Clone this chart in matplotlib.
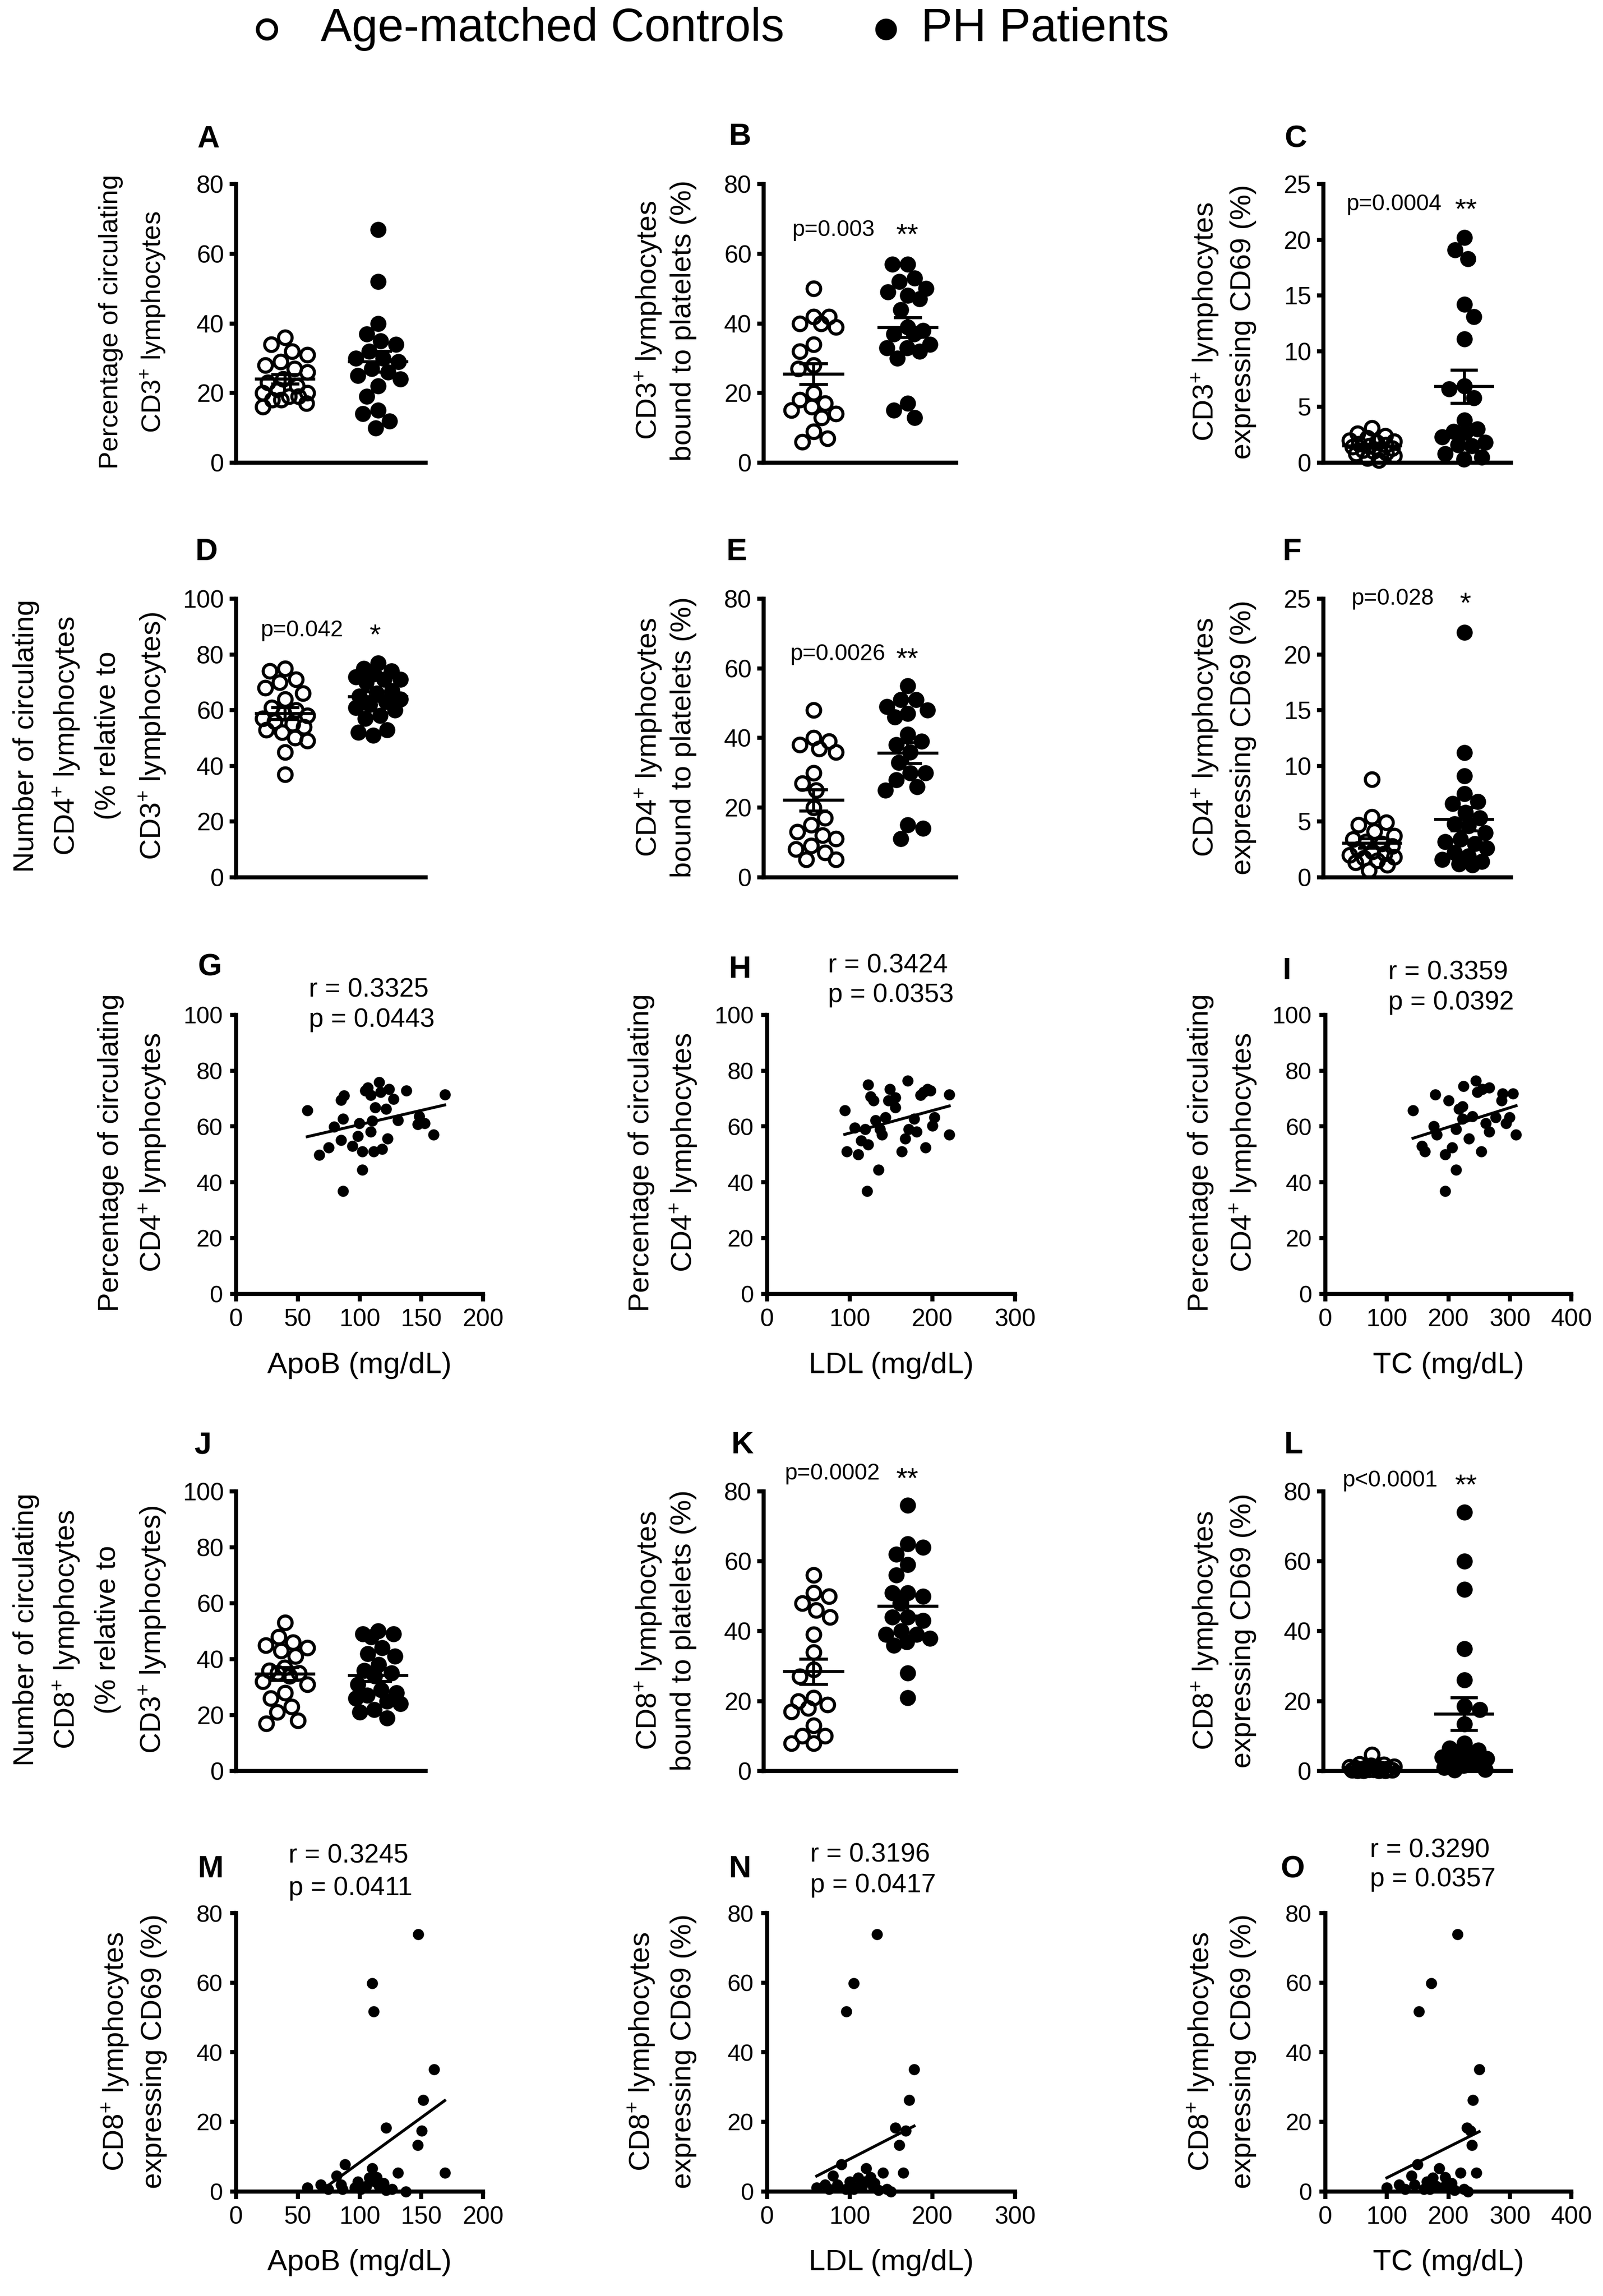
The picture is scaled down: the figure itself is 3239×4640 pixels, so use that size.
import numpy as np
import matplotlib
matplotlib.use("Agg")
import matplotlib.pyplot as plt
from matplotlib.lines import Line2D

plt.rcParams["font.family"] = ["Liberation Sans", "DejaVu Sans"]
plt.rcParams["mathtext.fontset"] = "custom"
plt.rcParams["mathtext.rm"] = "Liberation Sans"
plt.rcParams["mathtext.it"] = "Liberation Sans:italic"
plt.rcParams["mathtext.bf"] = "Liberation Sans:bold"

# ---------------- data ----------------
group_labels = ["Age-matched Controls", "PH Patients"]

a_ctrl = [36, 34, 32, 31, 29, 28, 27, 26, 24, 23, 22, 21, 20, 20, 19, 19, 18, 18, 17, 16]
a_ph = [67, 52, 40, 37, 35, 34, 32, 30, 30, 29, 27, 26, 25, 24, 22, 19, 15, 14, 12, 10]
b_ctrl = [50, 42, 42, 40, 40, 39, 34, 32, 28, 27, 20, 18, 17, 16, 15, 14, 13, 9, 7, 6]
b_ph = [57, 57, 53, 52, 50, 49, 48, 47, 44, 39, 38, 37, 37, 34, 33, 33, 32, 30, 17, 15, 13]
c_ctrl = [3.1, 2.6, 2.4, 2.2, 2.0, 1.9, 1.8, 1.7, 1.6, 1.5, 1.4, 1.3, 1.2, 1.1, 1.0, 0.9, 0.8, 0.6, 0.4, 0.2]
c_ph = [20.2, 19.1, 18.3, 14.2, 13.1, 11.1, 6.9, 6.6, 5.8, 3.8, 3.0, 2.8, 2.7, 2.3, 1.8, 1.6, 1.5, 0.8, 0.5, 0.3]
d_ctrl = [75, 74, 71, 70, 68, 66, 64, 61, 60, 59, 58, 57, 56, 55, 54, 53, 52, 50, 49, 45, 37]
d_ph = [77, 75, 74, 73, 72, 71, 71, 70, 67, 66, 65, 64, 63, 62, 61, 60, 58, 57, 53, 52, 51]
e_ctrl = [48, 40, 39, 38, 37, 36, 30, 27, 25, 20, 17, 15, 13, 12, 11, 9, 8, 7, 5, 5]
e_ph = [55, 51, 51, 49, 48, 47, 46, 41, 39, 38, 36, 33, 30, 30, 28, 26, 25, 15, 14, 11]
f_ctrl = [8.8, 5.4, 4.9, 4.7, 4.1, 3.7, 3.4, 3.2, 3.0, 2.8, 2.5, 2.3, 2.1, 2.0, 1.8, 1.7, 1.5, 1.3, 1.1, 0.6]
f_ph = [22.0, 11.2, 9.1, 7.5, 6.8, 6.6, 5.8, 5.3, 4.8, 4.6, 4.0, 3.4, 3.2, 3.0, 2.6, 2.2, 1.9, 1.6, 1.4, 1.2, 1.1]
j_ctrl = [53, 48, 46, 45, 44, 43, 41, 37, 36, 35, 35, 34, 32, 31, 28, 26, 23, 21, 18, 17]
j_ph = [50, 49, 49, 48, 44, 42, 41, 38, 36, 35, 34, 31, 29, 28, 27, 26, 25, 24, 22, 21, 19]
k_ctrl = [56, 51, 50, 48, 46, 44, 39, 34, 29, 27, 21, 20, 19, 18, 17, 13, 10, 10, 8, 8]
k_ph = [76, 65, 64, 62, 59, 56, 51, 51, 50, 48, 44, 44, 43, 40, 39, 39, 38, 37, 36, 28, 21]
l_ctrl = [4.7, 2.0, 1.8, 1.5, 1.3, 1.2, 1.0, 0.9, 0.8, 0.7, 0.6, 0.5, 0.5, 0.4, 0.3, 0.3, 0.2, 0.2, 0.1, 0.1]
l_ph = [74, 60, 52, 35, 26, 18.5, 17.5, 13.5, 8, 6.5, 6, 5.5, 5, 4, 3.5, 3, 2, 1.5, 1, 0.5, 0.3]

g_apob = [57.6, 67.5, 74.9, 79.5, 84.8, 87.5, 86.6, 84.8, 86.6, 94.0, 98.6, 99.8, 102.0, 102.0,
          104.4, 106.7, 109.0, 109.0, 111.3, 112.4, 115.9, 117.0, 118.2, 121.6, 122.8, 124.0,
          127.4, 130.9, 137.8, 147.0, 148.1, 152.8, 159.7, 168.9, 110.0]
g_cd4 = [65.7, 49.8, 52.5, 59.9, 69.5, 71.1, 62.7, 55.1, 36.8, 53.0, 56.6, 61.2, 51.0, 44.4,
         72.8, 73.9, 71.3, 58.1, 51.0, 66.8, 75.9, 72.3, 52.0, 66.2, 55.6, 73.4,
         69.8, 62.2, 72.8, 60.7, 63.7, 61.2, 57.1, 71.5, 62.0]
h_ldl = [94, 96.4, 106, 110, 114, 121, 122.5, 125, 122.5, 129, 131, 135, 136.4, 139, 143, 148.7,
         155, 155, 163, 167.5, 170, 171.6, 178, 181, 186, 189.5, 192, 194.4, 197.7, 200, 202.6,
         220.6, 220.6, 118.5, 147]
h_cd4 = [65.7, 51.0, 59.6, 50.0, 55.0, 36.8, 74.9, 70.8, 53.5, 69.3, 62.2, 44.4, 59.1, 57.1, 63.2, 73.4,
         66.8, 70.3, 51.0, 55.6, 76.4, 59.1, 62.7, 58.1, 71.3, 72.3, 52.5, 73.4, 72.8, 60.2, 63.2,
         71.5, 57.1, 59.1, 69.3]
i_tc = [142.5, 162, 178.6, 176.5, 181, 195, 195, 200.6, 206, 212, 212, 217, 222.5, 222.5, 224.7,
        233.4, 239, 244.4, 246.6, 253, 255, 261, 266, 266, 277, 286, 288, 293.7, 299, 304.7, 310, 157]
i_cd4 = [65.7, 51.0, 71.5, 60.1, 57.1, 50.0, 36.8, 69.3, 52.5, 44.4, 59.1, 66.2, 67.2, 62.7, 74.4,
         55.6, 63.7, 76.4, 72.3, 51.0, 73.4, 61.2, 73.9, 58.1, 63.2, 69.3, 71.8, 61.2, 63.2, 71.8, 57.1, 53.0]

mno_cd8 = [73.9, 59.8, 51.7, 35.1, 26.2, 18.3, 17.4, 13.3, 7.7, 6.6, 5.4, 5.4, 4.5, 3.9, 4.1,
           2.8, 2.4, 2.0, 2.0, 1.1, 0.7, 0.7, 1.5, 0.3, 0.7, 0.0, 0.7, 1.1, 1.5, 2.8]
m_apob = [147.5, 110.1, 111.3, 160.1, 151.6, 121.6, 150.4, 147.0, 88.2, 110.1, 130.9, 168.9, 81.3, 107.7, 113.6,
          98.6, 119.3, 68.7, 84.8, 57.6, 74.4, 100.9, 105.5, 121.6, 126.3, 137.3, 86.0, 96.3, 115.9, 112.4]
n_ldl = [133, 105, 96, 178, 172, 155, 168, 160, 90, 120, 140, 165, 80, 110, 125,
         100, 130, 70, 85, 60, 75, 105, 115, 135, 145, 150, 95, 108, 128, 118]
o_tc = [215, 172, 152, 250, 240, 230, 236, 238, 150, 185, 220, 245, 140, 175, 195,
        165, 205, 120, 145, 100, 130, 170, 180, 210, 225, 232, 160, 190, 200, 198]

r_texts = {"G": ("r = 0.3325", "p = 0.0443"), "H": ("r = 0.3424", "p = 0.0353"),
           "I": ("r = 0.3359", "p = 0.0392"), "M": ("r = 0.3245", "p = 0.0411"),
           "N": ("r = 0.3196", "p = 0.0417"), "O": ("r = 0.3290", "p = 0.0357")}

p_stars = {"p=0.003": "**", "p=0.0004": "**", "p=0.042": "*", "p=0.0026": "**",
           "p=0.028": "*", "p=0.0002": "**", "p<0.0001": "**"}

# ---------------- figure geometry ----------------
W_PX, H_PX, DPI = 3239, 4640, 300
REF_W = 1100.0
SC = W_PX / REF_W
REF_H = H_PX / SC

fig = plt.figure(figsize=(W_PX / DPI, H_PX / DPI), dpi=DPI)


def fx(x):
    return x / REF_W


def fy(y):
    return 1 - y / REF_H


def add_axes(left, top, width, height):
    return fig.add_axes([fx(left), fy(top + height), width / REF_W, height / REF_H])


def style(ax):
    for s in ["top", "right"]:
        ax.spines[s].set_visible(False)
    for s in ["left", "bottom"]:
        ax.spines[s].set_linewidth(2.0)


def ylabel_lines(lines, xs, yc, fs):
    for t, x in zip(lines, xs):
        fig.text(fx(x), fy(yc), t, rotation=90, ha="center", va="center", fontsize=fs)


def letter(t, x, y):
    fig.text(fx(x), fy(y), t, fontsize=15, fontweight="bold", ha="center", va="center")


XLIM = (-0.53, 1.51)
MS_OPEN, MEW_OPEN, MS_FILL = 6.6, 1.5, 7.8
D_PX = 31.0
MAXW_PX = 45.0


def swarm(vals, ax):
    pos = ax.get_position()
    hpx = pos.height * H_PX
    wpx = pos.width * W_PX
    y0, y1 = ax.get_ylim()
    x0, x1 = ax.get_xlim()
    ypx = (np.asarray(vals, float) - y0) / (y1 - y0) * hpx
    pxu = wpx / (x1 - x0)
    cands = np.arange(-MAXW_PX, MAXW_PX + 0.01, 1.0)
    order = np.argsort(-ypx, kind="stable")
    ppx, ppy = [], []
    offs = np.zeros(len(vals))
    for n, i in enumerate(order):
        if ppx:
            dx = cands[:, None] - np.array(ppx)[None, :]
            dy = ypx[i] - np.array(ppy)
            dmin = np.sqrt(dx ** 2 + dy[None, :] ** 2).min(axis=1)
        else:
            dmin = np.full(len(cands), np.inf)
        ok = dmin >= D_PX
        pref = np.abs(cands) + (0.01 * cands if n % 2 else -0.01 * cands)
        if ok.any():
            j = int(np.argmin(np.where(ok, pref, np.inf)))
        else:
            j = int(np.argmax(dmin - 0.001 * np.abs(cands)))
        ppx.append(cands[j])
        ppy.append(ypx[i])
        offs[i] = cands[j] / pxu
    return offs


def dot_panel(left, top, width, height, ctrl, ph, ymax, ystep):
    ax = add_axes(left, top, width, height)
    ax.set_xlim(*XLIM)
    ax.set_ylim(0, ymax)
    for gi, vals in enumerate([ctrl, ph]):
        offs = swarm(vals, ax)
        if gi == 0:
            ax.plot(gi + offs, vals, "o", ls="none", ms=MS_OPEN, mfc="none", mec="k",
                    mew=MEW_OPEN, clip_on=False, zorder=3)
        else:
            ax.plot(gi + offs, vals, "o", ls="none", ms=MS_FILL, mfc="k", mec="k",
                    mew=0, clip_on=False, zorder=3)
        v = np.asarray(vals, float)
        m = v.mean()
        s = v.std(ddof=1) / np.sqrt(len(v))
        ax.hlines(m, gi - 0.325, gi + 0.325, color="k", lw=1.5, zorder=5)
        ax.vlines(gi, m - s, m + s, color="k", lw=1.5, zorder=5)
        ax.hlines([m - s, m + s], gi - 0.15, gi + 0.15, color="k", lw=1.5, zorder=5)
    ax.set_xticks([])
    ax.set_yticks(np.arange(0, ymax + 0.01, ystep))
    ax.tick_params(axis="y", direction="out", length=3.2, width=2.0, labelsize=12, pad=2.6)
    style(ax)
    return ax


def ptext(p, px, starx, yc):
    fig.text(fx(px), fy(yc + 5.6), p, fontsize=11, ha="center", va="baseline")
    fig.text(fx(starx), fy(yc + 11.0), p_stars[p], fontsize=14, ha="center", va="baseline")


def scatter_panel(left, top, width, height, x, y, xmax, xstep, ymax, ystep, xlabel, key,
                  rleft, ry, py):
    ax = add_axes(left, top, width, height)
    ax.set_xlim(0, xmax)
    ax.set_ylim(0, ymax)
    ax.plot(x, y, "o", ls="none", ms=5.4, mfc="k", mec="k", mew=0, clip_on=False, zorder=3)
    c = np.polyfit(np.asarray(x, float), np.asarray(y, float), 1)
    xs = np.array([min(x), max(x)])
    ax.plot(xs, np.polyval(c, xs), "k-", lw=1.4, zorder=4)
    ax.set_xticks(np.arange(0, xmax + 0.01, xstep))
    ax.set_yticks(np.arange(0, ymax + 0.01, ystep))
    ax.tick_params(axis="y", direction="out", length=3.0, width=2.0, labelsize=11.5, pad=3.5)
    ax.tick_params(axis="x", direction="out", length=3.5, width=2.0, labelsize=12, pad=3.5)
    style(ax)
    fig.text(fx(left + width / 2), fy(top + height + 49), xlabel, fontsize=14.5,
             ha="center", va="center")
    rt, pt = r_texts[key]
    fig.text(fx(rleft), fy(ry), rt, fontsize=12.8, ha="left", va="center")
    fig.text(fx(rleft), fy(py), pt, fontsize=12.8, ha="left", va="center")
    return ax


# column / row geometry (reference units: 1100 px wide)
C1, C2, C3 = (162, 130), (524, 132), (908, 129)
R1, R2, R4 = (126.5, 191), (411, 191), (1023.5, 192)
SC1, SC2, SC3 = (162, 169.5), (526.4, 170), (909.4, 169)
R3, R5 = (696.5, 191.5), (1313, 191)

# Row 1
dot_panel(C1[0], R1[0], C1[1], R1[1], a_ctrl, a_ph, 80, 20)
dot_panel(C2[0], R1[0], C2[1], R1[1], b_ctrl, b_ph, 80, 20)
dot_panel(C3[0], R1[0], C3[1], R1[1], c_ctrl, c_ph, 25, 5)
letter("A", 143, 95.6)
letter("B", 508, 94)
letter("C", 889, 95.6)
ylabel_lines(["Percentage of circulating", "CD3$^{+}$ lymphocytes"], [76, 105], 221, 13)
ylabel_lines(["CD3$^{+}$ lymphocytes", "bound to platelets (%)"], [445, 469], 220, 14)
ylabel_lines(["CD3$^{+}$ lymphocytes", "expressing CD69 (%)"], [827, 853], 221, 14)
ptext("p=0.003", 571.7, 622.5, 156.3)
ptext("p=0.0004", 956.3, 1005.8, 138.9)

# Row 2
dot_panel(C1[0], R2[0], C1[1], R2[1], d_ctrl, d_ph, 100, 20)
dot_panel(C2[0], R2[0], C2[1], R2[1], e_ctrl, e_ph, 80, 20)
dot_panel(C3[0], R2[0], C3[1], R2[1], f_ctrl, f_ph, 25, 5)
letter("D", 141.7, 379)
letter("E", 505.6, 379)
letter("F", 886.6, 379)
ylabel_lines(["Number of circulating", "CD4$^{+}$ lymphocytes", "(% relative to",
              "CD3$^{+}$ lymphocytes)"], [18, 45.5, 74, 104.5], 505, 14)
ylabel_lines(["CD4$^{+}$ lymphocytes", "bound to platelets (%)"], [445, 469], 506, 14)
ylabel_lines(["CD4$^{+}$ lymphocytes", "expressing CD69 (%)"], [827, 853], 506, 14)
ptext("p=0.042", 207, 257.3, 431)
ptext("p=0.0026", 574.8, 622.5, 447.4)
ptext("p=0.028", 955.6, 1005.3, 409.4)

# Row 3 (scatter)
scatter_panel(SC1[0], R3[0], SC1[1], R3[1], g_apob, g_cd4, 200, 50, 100, 20, "ApoB (mg/dL)", "G",
              211.8, 679.3, 699.8)
scatter_panel(SC2[0], R3[0], SC2[1], R3[1], h_ldl, h_cd4, 300, 100, 100, 20, "LDL (mg/dL)", "H",
              568, 662.7, 682.8)
scatter_panel(SC3[0], R3[0], SC3[1], R3[1], i_tc, i_cd4, 400, 100, 100, 20, "TC (mg/dL)", "I",
              952.6, 667.6, 688)
letter("G", 144, 664)
letter("H", 508, 665.6)
letter("I", 883, 666.6)
for xs in ([76, 104.5], [440, 469], [824, 853]):
    ylabel_lines(["Percentage of circulating", "CD4$^{+}$ lymphocytes"], xs, 791, 14)

# Row 4
dot_panel(C1[0], R4[0], C1[1], R4[1], j_ctrl, j_ph, 100, 20)
dot_panel(C2[0], R4[0], C2[1], R4[1], k_ctrl, k_ph, 80, 20)
dot_panel(C3[0], R4[0], C3[1], R4[1], l_ctrl, l_ph, 80, 20)
letter("J", 139, 992)
letter("K", 509.4, 992)
letter("L", 887.6, 992)
ylabel_lines(["Number of circulating", "CD8$^{+}$ lymphocytes", "(% relative to",
              "CD3$^{+}$ lymphocytes)"], [18, 45.5, 74, 104.5], 1118.5, 14)
ylabel_lines(["CD8$^{+}$ lymphocytes", "bound to platelets (%)"], [445, 469], 1119, 14)
ylabel_lines(["CD8$^{+}$ lymphocytes", "expressing CD69 (%)"], [827, 853], 1119, 14)
ptext("p=0.0002", 571, 622.5, 1010)
ptext("p<0.0001", 953.9, 1005.8, 1014.5)

# Row 5 (scatter)
scatter_panel(SC1[0], R5[0], SC1[1], R5[1], m_apob, mno_cd8, 200, 50, 80, 20, "ApoB (mg/dL)", "M",
              198, 1273.7, 1296)
scatter_panel(SC2[0], R5[0], SC2[1], R5[1], n_ldl, mno_cd8, 300, 100, 80, 20, "LDL (mg/dL)", "N",
              556, 1273, 1294)
scatter_panel(SC3[0], R5[0], SC3[1], R5[1], o_tc, mno_cd8, 400, 100, 80, 20, "TC (mg/dL)", "O",
              940, 1270, 1290)
letter("M", 144.5, 1283)
letter("N", 508, 1283)
letter("O", 887, 1283)
for xs in ([79, 105.5], [440, 469], [824, 853]):
    ylabel_lines(["CD8$^{+}$ lymphocytes", "expressing CD69 (%)"], xs, 1408, 14)

# Legend
fig.add_artist(Line2D([fx(183)], [fy(20)], marker="o", ms=9, mfc="none", mec="k", mew=1.8,
                      ls="none", transform=fig.transFigure))
fig.text(fx(220), fy(20), group_labels[0], fontsize=22.6, ha="left", va="center")
fig.add_artist(Line2D([fx(608)], [fy(20)], marker="o", ms=10.5, mfc="k", mec="k", mew=0,
                      ls="none", transform=fig.transFigure))
fig.text(fx(632), fy(20), group_labels[1], fontsize=22.8, ha="left", va="center")

fig.savefig("out.png", dpi=DPI)
